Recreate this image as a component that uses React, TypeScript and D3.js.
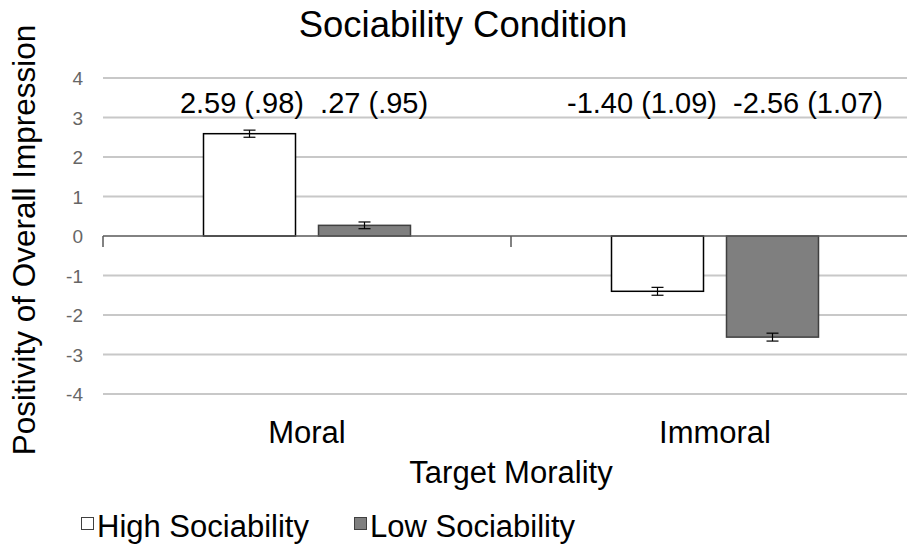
import React, { useEffect, useRef } from 'react';
import * as d3 from 'd3';

// chart data
const categories = ['Moral', 'Immoral'];
const seriesNames = ['High Sociability', 'Low Sociability'];
const highMeans = [2.59, -1.4];
const lowMeans = [0.27, -2.56];
const highSE = [0.09, 0.1];
const lowSE = [0.085, 0.1];
const highLabels = ['2.59 (.98)', '-1.40 (1.09)'];
const lowLabels = ['.27 (.95)', '-2.56 (1.07)'];
const yTicks = [4, 3, 2, 1, 0, -1, -2, -3, -4];

const FONT = '"Liberation Sans", Arial, sans-serif';

const App = () => {
  const svgRef = useRef<SVGSVGElement>(null);

  useEffect(() => {
    const svg = d3.select(svgRef.current);
    svg.selectAll('*').remove();

    const plot = { left: 103, right: 919, top: 78, bottom: 394 };

    const x = d3.scaleBand().domain(categories).range([plot.left, plot.right]);
    const inner = d3
      .scaleBand()
      .domain(seriesNames)
      .range([0, x.bandwidth()])
      .paddingInner(0.2)
      .paddingOuter(0.874);
    const y = d3.scaleLinear().domain([-4, 4]).range([plot.bottom, plot.top]);

    // gridlines
    svg
      .append('g')
      .selectAll('line')
      .data(yTicks.filter((t) => t !== 0))
      .join('line')
      .attr('x1', plot.left)
      .attr('x2', plot.right)
      .attr('y1', (d) => y(d))
      .attr('y2', (d) => y(d))
      .attr('stroke', '#c8c8c8')
      .attr('stroke-width', 2);

    // y tick labels
    svg
      .append('g')
      .selectAll('text')
      .data(yTicks)
      .join('text')
      .attr('x', 83)
      .attr('y', (d) => y(d) + 7)
      .attr('text-anchor', 'end')
      .attr('font-family', FONT)
      .attr('font-size', 19)
      .attr('fill', '#666666')
      .text((d) => d);

    // bars
    const series = [
      { name: seriesNames[0], means: highMeans, se: highSE, fill: '#ffffff', stroke: '#000000' },
      { name: seriesNames[1], means: lowMeans, se: lowSE, fill: '#7f7f7f', stroke: '#404040' },
    ];

    series.forEach((s) => {
      const g = svg.append('g');
      g.selectAll('rect')
        .data(categories)
        .join('rect')
        .attr('x', (c) => x(c)! + inner(s.name)!)
        .attr('width', inner.bandwidth())
        .attr('y', (c, i) => Math.min(y(s.means[i]), y(0)))
        .attr('height', (c, i) => Math.abs(y(s.means[i]) - y(0)))
        .attr('fill', s.fill)
        .attr('stroke', s.stroke)
        .attr('stroke-width', 1.5);

      // error bars
      categories.forEach((c, i) => {
        const cx = x(c)! + inner(s.name)! + inner.bandwidth() / 2;
        const y1 = y(s.means[i] + s.se[i]);
        const y2 = y(s.means[i] - s.se[i]);
        g.append('line')
          .attr('x1', cx).attr('x2', cx)
          .attr('y1', y1).attr('y2', y2)
          .attr('stroke', '#000').attr('stroke-width', 1.2);
        [y1, y2].forEach((yy) =>
          g.append('line')
            .attr('x1', cx - 6).attr('x2', cx + 6)
            .attr('y1', yy).attr('y2', yy)
            .attr('stroke', '#000').attr('stroke-width', 1.2)
        );
      });
    });

    // zero axis with category tick marks
    svg
      .append('line')
      .attr('x1', plot.left)
      .attr('x2', plot.right)
      .attr('y1', y(0))
      .attr('y2', y(0))
      .attr('stroke', '#595959')
      .attr('stroke-width', 1.5);
    svg
      .append('g')
      .selectAll('line')
      .data([plot.left, plot.left + x.bandwidth(), plot.right])
      .join('line')
      .attr('x1', (d) => d)
      .attr('x2', (d) => d)
      .attr('y1', y(0))
      .attr('y2', y(0) + 11)
      .attr('stroke', '#595959')
      .attr('stroke-width', 1.5);

    // value labels, one line per category
    svg
      .append('g')
      .selectAll('text')
      .data(categories)
      .join('text')
      .attr('x', (c, i) => x(c)! + x.bandwidth() / 2 + (i === 0 ? -3 : 10))
      .attr('y', 113)
      .attr('text-anchor', 'middle')
      .attr('font-family', FONT)
      .attr('font-size', 29)
      .attr('fill', '#000')
      .attr('xml:space', 'preserve')
      .text((c, i) => `${highLabels[i]}  ${lowLabels[i]}`);

    // category labels
    svg
      .append('g')
      .selectAll('text')
      .data(categories)
      .join('text')
      .attr('x', (c) => x(c)! + x.bandwidth() / 2)
      .attr('y', 443)
      .attr('text-anchor', 'middle')
      .attr('font-family', FONT)
      .attr('font-size', 31)
      .attr('fill', '#000')
      .text((c) => c);

    // title
    svg
      .append('text')
      .attr('x', 463)
      .attr('y', 37)
      .attr('text-anchor', 'middle')
      .attr('font-family', FONT)
      .attr('font-size', 36.5)
      .text('Sociability Condition');

    // axis titles
    svg
      .append('text')
      .attr('x', 511)
      .attr('y', 483)
      .attr('text-anchor', 'middle')
      .attr('font-family', FONT)
      .attr('font-size', 31)
      .text('Target Morality');

    svg
      .append('text')
      .attr('transform', `translate(35, 240) rotate(-90)`)
      .attr('text-anchor', 'middle')
      .attr('font-family', FONT)
      .attr('font-size', 31.5)
      .text('Positivity of Overall Impression');

    // legend
    const legend = svg.append('g');
    const legendPos = [81, 354];
    series.forEach((s, i) => {
      legend
        .append('rect')
        .attr('x', legendPos[i] + 0.5)
        .attr('y', 517.5)
        .attr('width', 12)
        .attr('height', 12)
        .attr('fill', s.fill)
        .attr('stroke', '#404040')
        .attr('stroke-width', 1);
      legend
        .append('text')
        .attr('x', legendPos[i] + 16)
        .attr('y', 537)
        .attr('font-family', FONT)
        .attr('font-size', 31)
        .text(s.name);
    });
  }, []);

  return (
    <svg
      ref={svgRef}
      width={907}
      height={550}
      style={{ position: 'absolute', left: 0, top: 0, background: '#fff', overflow: 'hidden' }}
    ></svg>
  );
};

export default App;
